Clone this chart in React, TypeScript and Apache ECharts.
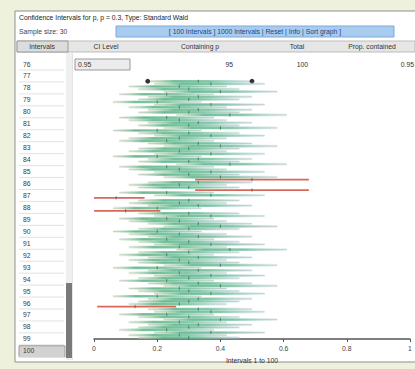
import React, { useEffect, useRef } from "react";
import * as echarts from "echarts";

// ---- data ----
const trueP = 0.3;
const sampleSize = 30;
const ciLevel = "0.95";
const containing = 95;
const total = 100;
const propContained = "0.95";
const listLabels = ["76","77","78","79","80","81","82","83","84","85","86","87","88","89","90","91","92","93","94","95","96","97","98","99","100"];
const xTicks = [0, 0.2, 0.4, 0.6, 0.8, 1];

const lows = [
  0.17,0.19,0.11,0.14,0.22,0.08,0.17,0.14,0.06,0.19,
  0.11,0.17,0.14,0.26,0.08,0.11,0.17,0.14,0.22,0.06,
  0.14,0.19,0.11,0.08,0.17,0.22,0.14,0.11,0.19,0.06,
  0.17,0.14,0.26,0.08,0.11,0.19,0.14,0.22,0.32,0.17,
  0.11,0.14,0.32,0.08,0.19,0.00,0.14,0.11,0.17,0.06,
  0.00,0.14,0.19,0.08,0.11,0.17,0.22,0.14,0.06,0.11,
  0.17,0.08,0.14,0.19,0.11,0.26,0.14,0.08,0.17,0.11,
  0.14,0.22,0.06,0.17,0.11,0.19,0.14,0.08,0.17,0.22,
  0.11,0.14,0.19,0.06,0.17,0.14,0.11,0.01,0.17,0.19,
  0.08,0.14,0.22,0.11,0.17,0.14,0.08,0.19,0.11,0.14,
];
const highs = [
  0.50,0.54,0.42,0.46,0.58,0.38,0.50,0.46,0.34,0.54,
  0.42,0.50,0.46,0.61,0.38,0.42,0.50,0.46,0.58,0.34,
  0.46,0.54,0.42,0.38,0.50,0.58,0.46,0.42,0.54,0.34,
  0.50,0.46,0.61,0.38,0.42,0.54,0.46,0.58,0.68,0.50,
  0.42,0.46,0.68,0.38,0.54,0.16,0.46,0.42,0.50,0.34,
  0.21,0.46,0.54,0.38,0.42,0.50,0.58,0.46,0.34,0.42,
  0.50,0.38,0.46,0.54,0.42,0.61,0.46,0.38,0.50,0.42,
  0.46,0.58,0.34,0.50,0.42,0.54,0.46,0.38,0.50,0.58,
  0.42,0.46,0.54,0.34,0.50,0.46,0.42,0.26,0.50,0.54,
  0.38,0.46,0.58,0.42,0.50,0.46,0.38,0.54,0.42,0.46,
];
const centers = [
  0.33,0.37,0.27,0.30,0.40,0.23,0.33,0.30,0.20,0.37,
  0.27,0.33,0.30,0.43,0.23,0.27,0.33,0.30,0.40,0.20,
  0.30,0.37,0.27,0.23,0.33,0.40,0.30,0.27,0.37,0.20,
  0.33,0.30,0.43,0.23,0.27,0.37,0.30,0.40,0.50,0.33,
  0.27,0.30,0.50,0.23,0.37,0.07,0.30,0.27,0.33,0.20,
  0.10,0.30,0.37,0.23,0.27,0.33,0.40,0.30,0.20,0.27,
  0.33,0.23,0.30,0.37,0.27,0.43,0.30,0.23,0.33,0.27,
  0.30,0.40,0.20,0.33,0.27,0.37,0.30,0.23,0.33,0.40,
  0.27,0.30,0.37,0.20,0.33,0.30,0.27,0.13,0.33,0.37,
  0.23,0.30,0.40,0.27,0.33,0.30,0.23,0.37,0.27,0.30,
];

const FONT = "Liberation Sans";
const FS = 6.8;

export default function App() {
  const ref = useRef<HTMLDivElement>(null);
  useEffect(() => {
    if (!ref.current) return;
    const chart = echarts.init(ref.current, null, { renderer: "svg" });
    const data = lows.map((l, i) => [l, highs[i], centers[i], i + 1]);

    const txt = (x: number, y: number, text: string, extra: any = {}) => ({
      type: "text",
      x,
      y,
      style: { text, fontFamily: FONT, fontSize: FS, fill: "#333", textVerticalAlign: "middle", ...extra },
      silent: true,
    });

    const graphics: any[] = [
      { type: "rect", shape: { x: 15, y: 11, width: 405, height: 351 }, style: { fill: "#fff", stroke: "#8f8f8f", lineWidth: 1 }, z: -10 },
      txt(19, 17, "Confidence Intervals for p, p = 0.3, Type: Standard Wald", { fill: "#222" }),
      txt(19, 31, "Sample size: " + sampleSize, { fill: "#444" }),
      { type: "rect", shape: { x: 116, y: 26, width: 278, height: 11 }, style: { fill: "#a8ccef", stroke: "#7fa9d8" } },
      txt(255, 31.5, "[ 100 Intervals ] 1000 Intervals | Reset | Info | Sort graph ]", { fill: "#23457f", textAlign: "center" }),
      { type: "rect", shape: { x: 17, y: 41, width: 398, height: 11 }, style: { fill: "#e6e6e6", stroke: "#bdbdbd" } },
      { type: "rect", shape: { x: 17, y: 41, width: 51, height: 11 }, style: { fill: "#dcdcdc", stroke: "#9a9a9a" } },
      txt(42, 46.5, "Intervals", { textAlign: "center" }),
      txt(106, 46.5, "CI Level", { textAlign: "center" }),
      txt(200, 46.5, "Containing p", { textAlign: "center" }),
      txt(297, 46.5, "Total", { textAlign: "center" }),
      txt(372, 46.5, "Prop. contained", { textAlign: "center" }),
      { type: "rect", shape: { x: 75, y: 59, width: 55, height: 11 }, style: { fill: "#ececec", stroke: "#9a9a9a" } },
      txt(78, 64.5, ciLevel),
      txt(233, 64.5, String(containing), { textAlign: "right" }),
      txt(308, 64.5, String(total), { textAlign: "right" }),
      txt(414, 64.5, propContained, { textAlign: "right" }),
      { type: "line", shape: { x1: 72, y1: 53, x2: 72, y2: 360 }, style: { stroke: "#c8c8c8" } },
      { type: "rect", shape: { x: 66, y: 53, width: 6, height: 307 }, style: { fill: "#efefef" } },
      { type: "rect", shape: { x: 66, y: 283, width: 6, height: 75 }, style: { fill: "#7a7a7a" } },
    ];
    listLabels.forEach((lab, i) => {
      const y = 64 + i * 11.95;
      if (lab === "100") {
        graphics.push({ type: "rect", shape: { x: 19, y: y - 5, width: 46, height: 11 }, style: { fill: "#d2d2d2", stroke: "#9a9a9a" } });
      }
      graphics.push(txt(23, y, lab, { fill: "#3a3a3a" }));
      graphics.push({ type: "line", shape: { x1: 19, y1: y + 6, x2: 64, y2: y + 6 }, style: { stroke: "#e2e2e2" } });
    });

    chart.setOption({
      animation: false,
      backgroundColor: "#eef1dc",
      grid: { left: 94, right: 5, top: 80, bottom: 26 },
      xAxis: {
        type: "value",
        min: 0,
        max: 1,
        interval: 0.2,
        splitLine: { show: false },
        axisLine: { lineStyle: { color: "#555", width: 1.5 } },
        axisTick: { length: 3, lineStyle: { color: "#555" } },
        axisLabel: {
          fontFamily: FONT,
          fontSize: FS,
          color: "#444",
          margin: 6,
          formatter: (v: number) => (xTicks.includes(v) && (v === 0 || v === 1) ? String(v) : v.toFixed(1)),
        },
        name: "Intervals 1 to " + total,
        nameLocation: "middle",
        nameGap: 18,
        nameTextStyle: { fontFamily: FONT, fontSize: FS, color: "#333" },
      },
      yAxis: { type: "value", min: 0.5, max: 100.5, inverse: true, show: false },
      graphic: graphics,
      series: [
        {
          type: "custom",
          data,
          renderItem: (params: any, api: any) => {
            const lo = api.value(0), hi = api.value(1), c = api.value(2), idx = api.value(3);
            const p1 = api.coord([lo, idx]);
            const p2 = api.coord([hi, idx]);
            const pc = api.coord([c, idx]);
            const miss = hi < trueP || lo > trueP;
            const children: any[] = [];
            if (miss) {
              children.push({ type: "rect", shape: { x: p1[0], y: p1[1] - 0.9, width: p2[0] - p1[0], height: 1.8 }, style: { fill: "rgba(212,86,74,0.9)" } });
            } else {
              children.push({ type: "line", shape: { x1: p1[0], y1: p1[1], x2: p2[0], y2: p2[1] }, style: { stroke: "rgba(150,165,150,0.7)", lineWidth: 0.8 } });
              children.push({
                type: "rect",
                shape: { x: p1[0], y: p1[1] - 1.35, width: p2[0] - p1[0], height: 2.7 },
                style: {
                  fill: new echarts.graphic.LinearGradient(0, 0, 1, 0, [
                    { offset: 0, color: "rgba(215,225,195,0.35)" },
                    { offset: 0.25, color: "rgba(80,178,130,0.75)" },
                    { offset: 0.6, color: "rgba(95,188,145,0.68)" },
                    { offset: 1, color: "rgba(190,215,230,0.3)" },
                  ]),
                },
              });
            }
            children.push({ type: "line", shape: { x1: pc[0], y1: pc[1] - 1.7, x2: pc[0], y2: pc[1] + 1.7 }, style: { stroke: "rgba(35,80,55,0.6)", lineWidth: 1 } });
            if (idx === 1) {
              children.push({ type: "circle", shape: { cx: p1[0], cy: p1[1], r: 2.4 }, style: { fill: "#333" } });
              children.push({ type: "circle", shape: { cx: p2[0], cy: p2[1], r: 2.4 }, style: { fill: "#333" } });
            }
            return { type: "group", children };
          },
        },
      ],
    });
    return () => chart.dispose();
  }, []);
  return <div ref={ref} style={{ position: "absolute", left: 0, top: 0, width: 415, height: 369 }} />;
}
